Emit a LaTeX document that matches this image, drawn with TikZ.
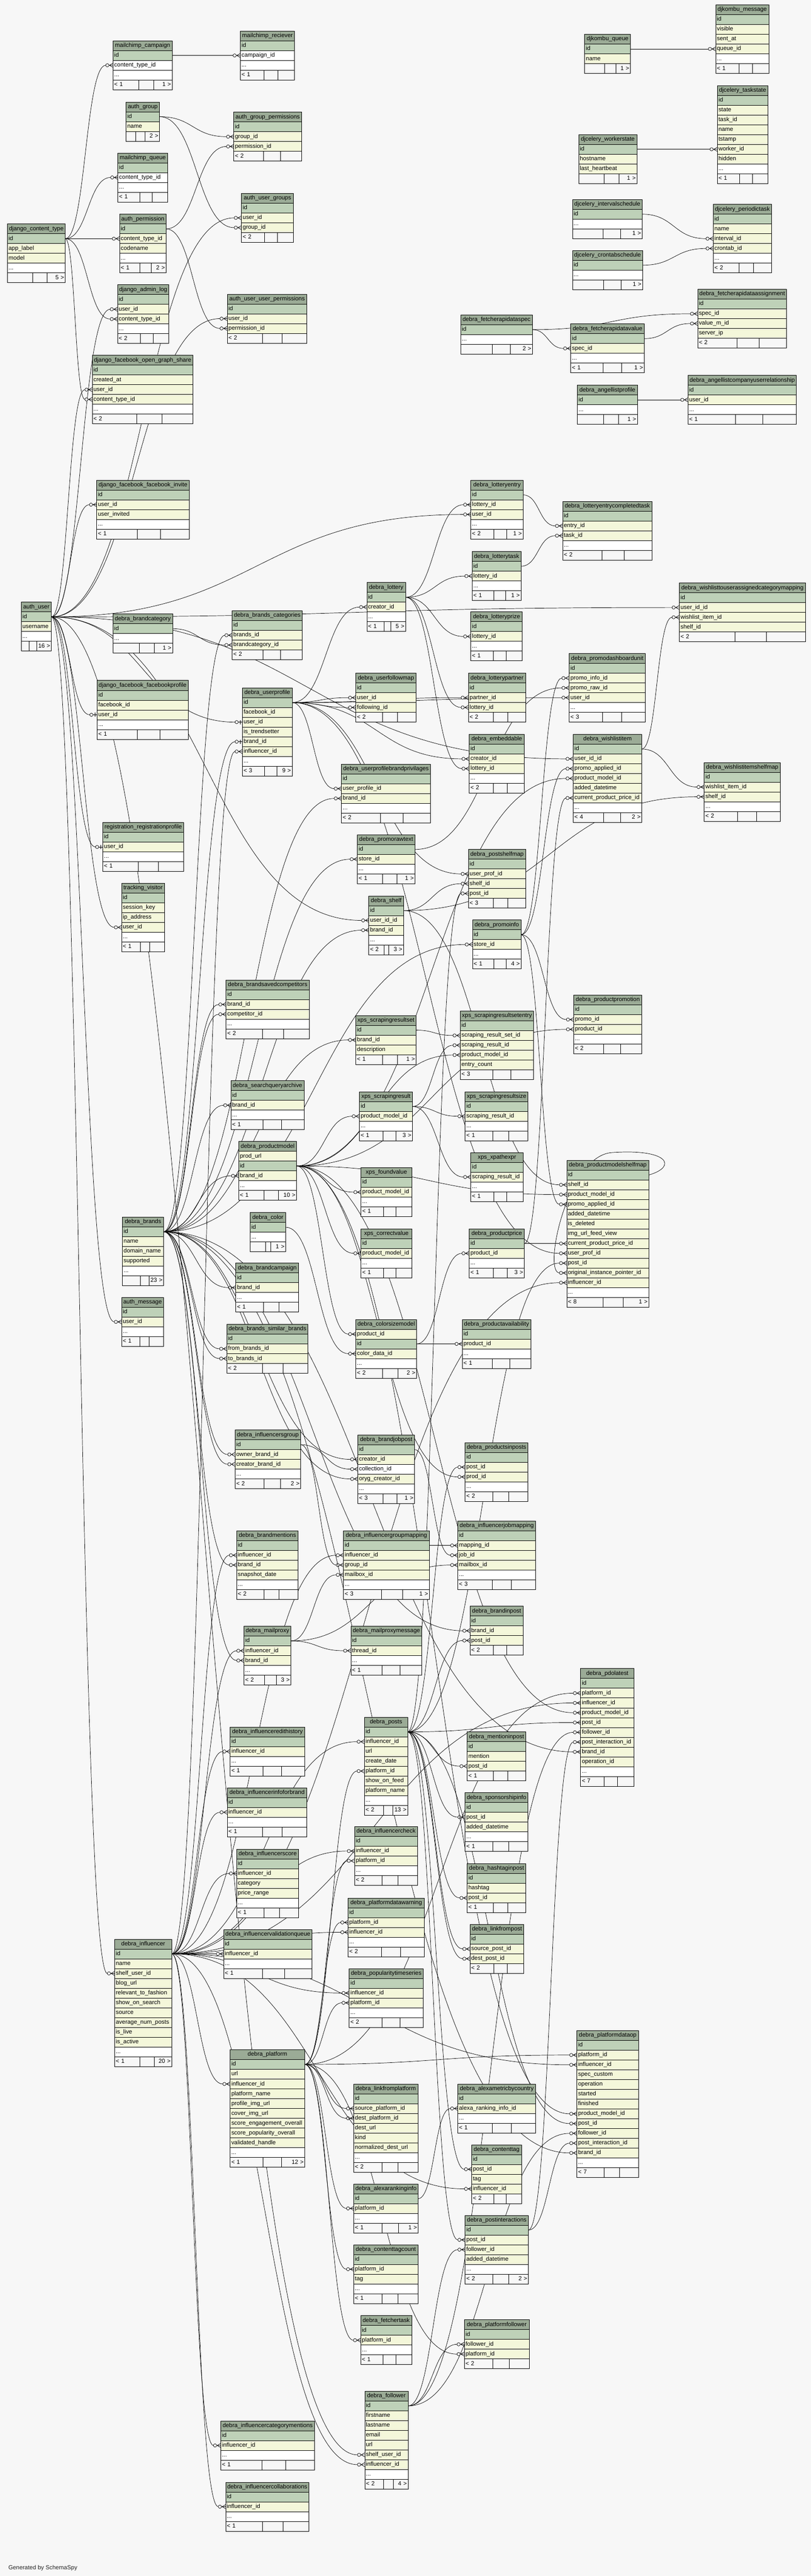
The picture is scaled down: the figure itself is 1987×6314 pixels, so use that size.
\documentclass[tikz,border=0pt]{standalone}
\usepackage{fontspec}
\setmainfont{Liberation Sans}
\usetikzlibrary{calc}
\definecolor{bgcol}{HTML}{F7F7F7}
\definecolor{colh}{HTML}{9BAB96}
\definecolor{colp}{HTML}{BED1B8}
\definecolor{coli}{HTML}{F4F7DA}
\definecolor{colw}{HTML}{FFFFFF}
\definecolor{colf}{HTML}{F7F7F7}
\newcommand{\tblfont}{\fontsize{14.4}{17}\selectfont}
\pgfdeclarelayer{bg}
\pgfdeclarelayer{edges}
\pgfsetlayers{bg,edges,main}
\tikzset{
  tblcell/.style={draw=black, line width=1pt, anchor=north west, inner xsep=3pt, inner ysep=0pt,
    outer sep=0pt, minimum height=24, text height=11pt, text depth=3.5pt, font=\tblfont},
  tblhead/.style={tblcell, fill=colh, align=center},
  tblrow/.style={tblcell, align=left},
  tblfoot/.style={tblcell, fill=colf},
  fkline/.style={line width=0.9pt, black},
  crowfoot/.pic={
    \draw[fkline] (-18,0) -- (0,0) (-9,0) -- (0,-5) (-9,0) -- (0,5);
    \draw[fkline,fill=bgcol] (-14,0) circle[radius=4pt];
  },
  onefoot/.pic={
    \draw[fkline] (-18,0) -- (0,0) (-5,-5) -- (-5,5);
    \draw[fkline,fill=bgcol] (-14,0) circle[radius=4pt];
  },
}
% #1 name, #2 x, #3 y, #4 width, #5 rows, #6 dots row, #7 left count, #8 right count
\newcommand{\dbtable}[8]{%
  \pgfmathsetmacro\tw{#4-6}%
  \node[tblhead, text width=\tw pt] (#1) at (#2,#3) {#1};
  \foreach [count=\rw] \cl/\fd in {#5}{%
    \node[tblrow, fill=col\cl, text width=\tw pt] (#1-\fd) at (#2,#3+24*\rw) {\fd};
    \xdef\nrows{\rw}%
  }
  \ifnum#6=1
    \node[tblrow, fill=colw, text width=\tw pt] (#1-dots) at (#2,#3+24*\nrows+24) {...};
  \fi
  \pgfmathsetmacro\yf{#3+24*(\nrows+1+#6)}%
  \pgfmathsetmacro\ftr{max(0.31*#4,36)}%
  \pgfmathsetmacro\ftl{(0.56*#4-\ftr<10) ? (#4-\ftr)/2 : 0.44*#4}%
  \pgfmathsetmacro\ftm{#4-\ftl-\ftr}%
  \pgfmathsetmacro\ftlt{\ftl-6}%
  \pgfmathsetmacro\ftmt{\ftm-6}%
  \pgfmathsetmacro\ftrt{\ftr-6}%
  \node[tblfoot, text width=\ftlt pt, align=left] (#1-fl) at (#2,\yf) {#7};
  \node[tblfoot, text width=\ftmt pt] (#1-fm) at (#2+\ftl,\yf) {};
  \node[tblfoot, text width=\ftrt pt, align=right] (#1-fr) at (#2+\ftl+\ftm,\yf) {#8};
}
\begin{document}
\catcode`\_=12
\lefthyphenmin=64
\begin{tikzpicture}[x=1pt,y=-1pt]
\useasboundingbox (0,0) rectangle (1987,6314);
\begin{pgfonlayer}{bg}
\fill[bgcol] (0,0) rectangle (1987,6314);
\end{pgfonlayer}

% django, auth, mailchimp
\dbtable{mailchimp_campaign}{277}{100}{145}{p/id,w/content_type_id}{1}{< 1}{1 >}
\dbtable{mailchimp_reciever}{589}{76}{133}{p/id,w/campaign_id}{1}{< 1}{}
\dbtable{auth_group}{309}{250}{82}{p/id,i/name}{0}{}{2 >}
\dbtable{auth_group_permissions}{573}{275}{166}{p/id,i/group_id,i/permission_id}{0}{< 2}{}
\dbtable{mailchimp_queue}{289}{375}{122}{p/id,w/content_type_id}{1}{< 1}{}
\dbtable{auth_permission}{293}{525}{114}{p/id,i/content_type_id,i/codename}{1}{< 1}{2 >}
\dbtable{auth_user_groups}{592}{474}{127}{p/id,i/user_id,i/group_id}{0}{< 2}{}
\dbtable{django_content_type}{18}{549}{142}{p/id,i/app_label,i/model}{1}{}{5 >}
\dbtable{django_admin_log}{288}{698}{126}{p/id,i/user_id,i/content_type_id}{1}{< 2}{}
\dbtable{auth_user_user_permissions}{557}{721}{195}{p/id,i/user_id,i/permission_id}{0}{< 2}{}
\dbtable{django_facebook_open_graph_share}{226}{871}{247}{p/id,i/created_at,i/user_id,i/content_type_id}{1}{< 2}{}
\dbtable{django_facebook_facebook_invite}{237}{1177}{227}{p/id,i/user_id,i/user_invited}{1}{< 1}{}
\dbtable{auth_user}{52}{1476}{74}{p/id,i/username}{1}{}{16 >}
\dbtable{django_facebook_facebookprofile}{238}{1668}{223}{p/id,i/facebook_id,i/user_id}{1}{< 1}{}
\dbtable{registration_registrationprofile}{252}{2016}{198}{p/id,i/user_id}{1}{< 1}{}
\dbtable{tracking_visitor}{298}{2165}{105}{p/id,i/session_key,i/ip_address,i/user_id}{1}{< 1}{}
\dbtable{auth_message}{298}{3180}{103}{p/id,i/user_id}{1}{< 1}{}

% djkombu, djcelery, fetcher, angellist
\dbtable{djkombu_queue}{1433}{84}{112}{p/id,i/name}{0}{}{1 >}
\dbtable{djkombu_message}{1754}{12}{130}{p/id,i/visible,i/sent_at,i/queue_id}{1}{< 1}{}
\dbtable{djcelery_taskstate}{1758}{210}{124}{p/id,i/state,i/task_id,i/name,i/tstamp,i/worker_id,i/hidden}{1}{< 1}{}
\dbtable{djcelery_workerstate}{1418}{330}{143}{p/id,i/hostname,i/last_heartbeat}{0}{}{1 >}
\dbtable{djcelery_intervalschedule}{1403}{489}{171}{p/id}{1}{}{1 >}
\dbtable{djcelery_periodictask}{1748}{501}{143}{p/id,i/name,i/interval_id,i/crontab_id}{1}{< 2}{}
\dbtable{djcelery_crontabschedule}{1403}{614}{172}{p/id}{1}{}{1 >}
\dbtable{debra_fetcherapidataassignment}{1710}{709}{218}{p/id,i/spec_id,i/value_m_id,i/server_ip}{0}{< 2}{}
\dbtable{debra_fetcherapidataspec}{1129}{772}{176}{p/id}{1}{}{2 >}
\dbtable{debra_fetcherapidatavalue}{1399}{794}{180}{p/id,i/spec_id}{1}{< 1}{1 >}
\dbtable{debra_angellistprofile}{1415}{944}{147}{p/id}{1}{}{1 >}
\dbtable{debra_angellistcompanyuserrelationship}{1686}{920}{266}{p/id,i/user_id}{1}{< 1}{}

% brands and user profile
\dbtable{debra_brandcategory}{277}{1505}{146}{p/id}{1}{}{1 >}
\dbtable{debra_brands_categories}{569}{1497}{172}{p/id,i/brands_id,i/brandcategory_id}{0}{< 2}{}
\dbtable{debra_lottery}{899}{1428}{95}{p/id,i/creator_id}{1}{< 1}{5 >}
\dbtable{debra_userprofile}{594}{1686}{122}{p/id,i/facebook_id,i/user_id,i/is_trendsetter,i/brand_id,i/influencer_id}{1}{< 3}{9 >}
\dbtable{debra_userfollowmap}{872}{1650}{148}{p/id,i/user_id,i/following_id}{0}{< 2}{}
\dbtable{debra_userprofilebrandprivilages}{837}{1873}{218}{p/id,i/user_profile_id,i/brand_id}{1}{< 2}{}
\dbtable{debra_promorawtext}{876}{2046}{141}{p/id,i/store_id}{1}{< 1}{1 >}
\dbtable{debra_lotteryentry}{1154}{1177}{128}{p/id,i/lottery_id,i/user_id}{1}{< 2}{1 >}
\dbtable{debra_lotteryentrycompletedtask}{1379}{1229}{219}{p/id,i/entry_id,i/task_id}{1}{< 2}{}
\dbtable{debra_lotterytask}{1157}{1352}{120}{p/id,i/lottery_id}{1}{< 1}{1 >}
\dbtable{debra_wishlisttouserassignedcategorymapping}{1665}{1429}{309}{p/id,i/user_id_id,i/wishlist_item_id,i/shelf_id}{0}{< 2}{}
\dbtable{debra_lotteryprize}{1154}{1500}{126}{p/id,i/lottery_id}{1}{< 1}{}
\dbtable{debra_promodashboardunit}{1395}{1602}{187}{p/id,i/promo_info_id,i/promo_raw_id,i/user_id}{1}{< 3}{}
\dbtable{debra_lotterypartner}{1148}{1650}{140}{p/id,i/partner_id,i/lottery_id}{0}{< 2}{}
\dbtable{debra_embeddable}{1150}{1800}{135}{p/id,i/creator_id,i/lottery_id}{1}{< 2}{}
\dbtable{debra_wishlistitem}{1405}{1800}{168}{p/id,i/user_id_id,i/promo_applied_id,i/product_model_id,i/added_datetime,i/current_product_price_id}{1}{< 4}{2 >}
\dbtable{debra_wishlistitemshelfmap}{1726}{1869}{186}{p/id,i/wishlist_item_id,i/shelf_id}{1}{< 2}{}
\dbtable{debra_postshelfmap}{1148}{2082}{140}{p/id,i/user_prof_id,i/shelf_id,i/post_id}{0}{< 3}{}

% shelves, products, scraping
\dbtable{debra_shelf}{904}{2196}{85}{p/id,i/user_id_id,i/brand_id}{1}{< 2}{3 >}
\dbtable{debra_brandsavedcompetitors}{554}{2402}{204}{p/id,i/brand_id,i/competitor_id}{1}{< 2}{}
\dbtable{xps_scrapingresultset}{872}{2489}{148}{p/id,i/brand_id,i/description}{0}{< 1}{1 >}
\dbtable{debra_searchqueryarchive}{566}{2649}{179}{p/id,i/brand_id}{1}{< 1}{}
\dbtable{xps_scrapingresult}{881}{2676}{130}{p/id,i/product_model_id}{1}{< 1}{3 >}
\dbtable{debra_productmodel}{585}{2798}{142}{i/prod_url,p/id,i/brand_id}{1}{< 1}{10 >}
\dbtable{xps_foundvalue}{885}{2862}{124}{p/id,i/product_model_id}{1}{< 1}{}
\dbtable{debra_color}{613}{2972}{87}{p/id}{1}{}{1 >}
\dbtable{debra_brands}{300}{2983}{101}{p/id,i/name,i/domain_name,i/supported}{1}{}{23 >}
\dbtable{xps_correctvalue}{885}{3012}{124}{p/id,i/product_model_id}{1}{< 1}{}
\dbtable{debra_brandcampaign}{578}{3096}{154}{p/id,i/brand_id}{1}{< 1}{}
\dbtable{debra_promoinfo}{1158}{2255}{119}{p/id,i/store_id}{1}{< 1}{4 >}
\dbtable{debra_productpromotion}{1406}{2439}{167}{p/id,i/promo_id,i/product_id}{1}{< 2}{}
\dbtable{xps_scrapingresultsetentry}{1128}{2478}{180}{p/id,i/scraping_result_set_id,i/scraping_result_id,i/product_model_id,i/entry_count}{0}{< 3}{}
\dbtable{xps_scrapingresultsize}{1140}{2676}{154}{p/id,i/scraping_result_id}{1}{< 1}{}
\dbtable{xps_xpathexpr}{1154}{2825}{128}{p/id,i/scraping_result_id}{1}{< 1}{}
\dbtable{debra_productmodelshelfmap}{1389}{2844}{201}{p/id,i/shelf_id,i/product_model_id,i/promo_applied_id,i/added_datetime,i/is_deleted,i/img_url_feed_view,i/current_product_price_id,i/user_prof_id,i/post_id,i/original_instance_pointer_id,i/influencer_id}{1}{< 8}{1 >}
\dbtable{debra_productprice}{1150}{3012}{135}{p/id,i/product_id}{1}{< 1}{3 >}

% brand relations, mail, jobs
\dbtable{debra_brands_similar_brands}{556}{3246}{199}{p/id,i/from_brands_id,i/to_brands_id}{0}{< 2}{}
\dbtable{debra_colorsizemodel}{872}{3234}{149}{i/product_id,p/id,i/color_data_id}{1}{< 2}{2 >}
\dbtable{debra_productavailability}{1133}{3234}{168}{p/id,i/product_id}{1}{< 1}{}
\dbtable{debra_influencersgroup}{576}{3505}{161}{p/id,i/owner_brand_id,i/creator_brand_id}{1}{< 2}{2 >}
\dbtable{debra_brandjobpost}{877}{3517}{139}{p/id,i/creator_id,w/collection_id,i/oryg_creator_id}{1}{< 3}{1 >}
\dbtable{debra_productsinposts}{1140}{3536}{154}{p/id,i/post_id,i/prod_id}{1}{< 2}{}
\dbtable{debra_brandmentions}{580}{3752}{151}{p/id,i/influencer_id,i/brand_id,i/snapshot_date}{1}{< 2}{}
\dbtable{debra_influencergroupmapping}{842}{3752}{210}{p/id,i/influencer_id,i/group_id,i/mailbox_id}{1}{< 3}{1 >}
\dbtable{debra_influencerjobmapping}{1122}{3728}{191}{p/id,i/mapping_id,i/job_id,i/mailbox_id}{1}{< 3}{}
\dbtable{debra_mailproxy}{598}{3986}{115}{p/id,i/influencer_id,i/brand_id}{1}{< 2}{3 >}
\dbtable{debra_mailproxymessage}{860}{3986}{174}{p/id,i/thread_id}{1}{< 1}{}
\dbtable{debra_brandinpost}{1152}{3937}{130}{p/id,i/brand_id,i/post_id}{0}{< 2}{}
\dbtable{debra_pdolatest}{1423}{4090}{131}{p/id,i/platform_id,i/influencer_id,i/product_model_id,i/post_id,i/follower_id,i/post_interaction_id,i/brand_id,i/operation_id}{1}{< 7}{}

% influencers, platforms, posts
\dbtable{debra_influenceredithistory}{564}{4233}{183}{p/id,i/influencer_id}{1}{< 1}{}
\dbtable{debra_posts}{893}{4209}{106}{p/id,i/influencer_id,i/url,i/create_date,i/platform_id,i/show_on_feed,i/platform_name}{1}{< 2}{13 >}
\dbtable{debra_influencerinfoforbrand}{557}{4382}{195}{p/id,i/influencer_id}{1}{< 1}{}
\dbtable{debra_influencercheck}{869}{4477}{154}{p/id,i/influencer_id,i/platform_id}{1}{< 2}{}
\dbtable{debra_influencerscore}{580}{4532}{152}{p/id,i/influencer_id,i/category,i/price_range}{1}{< 1}{}
\dbtable{debra_platformdatawarning}{853}{4652}{187}{p/id,i/platform_id,i/influencer_id}{1}{< 2}{}
\dbtable{debra_influencervalidationqueue}{548}{4729}{217}{p/id,i/influencer_id}{1}{< 1}{}
\dbtable{debra_influencer}{281}{4753}{140}{p/id,i/name,i/shelf_user_id,i/blog_url,i/relevant_to_fashion,i/show_on_search,i/source,i/average_num_posts,i/is_live,i/is_active}{1}{< 1}{20 >}
\dbtable{debra_popularitytimeseries}{856}{4825}{181}{p/id,i/influencer_id,i/platform_id}{1}{< 2}{}
\dbtable{debra_platform}{564}{5024}{183}{p/id,i/url,i/influencer_id,i/platform_name,i/profile_img_url,i/cover_img_url,i/score_engagement_overall,i/score_popularity_overall,i/validated_handle}{1}{< 1}{12 >}
\dbtable{debra_linkfromplatform}{867}{5108}{157}{p/id,i/source_platform_id,i/dest_platform_id,i/dest_url,i/kind,i/normalized_dest_url}{1}{< 2}{}
\dbtable{debra_mentioninpost}{1145}{4245}{144}{p/id,i/mention,i/post_id}{0}{< 1}{}
\dbtable{debra_sponsorshipinfo}{1140}{4394}{154}{p/id,i/post_id,i/added_datetime}{1}{< 1}{}
\dbtable{debra_hashtaginpost}{1145}{4568}{144}{p/id,i/hashtag,i/post_id}{0}{< 1}{}
\dbtable{debra_linkfrompost}{1152}{4717}{132}{p/id,i/source_post_id,i/dest_post_id}{0}{< 2}{}
\dbtable{debra_platformdataop}{1414}{4977}{151}{p/id,i/platform_id,i/influencer_id,i/spec_custom,i/operation,i/started,i/finished,i/product_model_id,i/post_id,i/follower_id,i/post_interaction_id,i/brand_id}{1}{< 7}{}
\dbtable{debra_alexametricbycountry}{1122}{5108}{191}{p/id,i/alexa_ranking_info_id}{1}{< 1}{}
\dbtable{debra_alexarankinginfo}{867}{5353}{158}{p/id,i/platform_id}{1}{< 1}{1 >}
\dbtable{debra_contenttagcount}{867}{5502}{157}{p/id,i/platform_id,i/tag}{1}{< 1}{}
\dbtable{debra_fetchertask}{884}{5676}{125}{p/id,i/platform_id}{1}{< 1}{}
\dbtable{debra_follower}{894}{5861}{106}{p/id,i/firstname,i/lastname,i/email,i/url,i/shelf_user_id,i/influencer_id}{1}{< 2}{4 >}
\dbtable{debra_influencercategorymentions}{541}{5934}{230}{p/id,i/influencer_id}{1}{< 1}{}
\dbtable{debra_influencercollaborations}{553}{6084}{204}{p/id,i/influencer_id}{1}{< 1}{}
\dbtable{debra_contenttag}{1156}{5257}{122}{p/id,i/post_id,i/tag,i/influencer_id}{0}{< 2}{}
\dbtable{debra_postinteractions}{1140}{5430}{155}{p/id,i/post_id,i/follower_id,i/added_datetime}{1}{< 2}{2 >}
\dbtable{debra_platformfollower}{1138}{5686}{159}{p/id,i/follower_id,i/platform_id}{0}{< 2}{}

\node[anchor=west, font=\tblfont, text=black!85] (credit) at (17,6294) {Generated by SchemaSpy};

% foreign keys, parent id row to child column
\begin{pgfonlayer}{edges}
\foreach \pa/\ch in {django_content_type/mailchimp_campaign-content_type_id,
mailchimp_campaign/mailchimp_reciever-campaign_id,
auth_group/auth_group_permissions-group_id,
auth_permission/auth_group_permissions-permission_id,
django_content_type/mailchimp_queue-content_type_id,
django_content_type/auth_permission-content_type_id,
auth_user/auth_user_groups-user_id,
auth_group/auth_user_groups-group_id,
auth_user/django_admin_log-user_id,
django_content_type/django_admin_log-content_type_id,
auth_user/auth_user_user_permissions-user_id,
auth_permission/auth_user_user_permissions-permission_id,
auth_user/django_facebook_open_graph_share-user_id,
django_content_type/django_facebook_open_graph_share-content_type_id,
djkombu_queue/djkombu_message-queue_id,
djcelery_workerstate/djcelery_taskstate-worker_id,
djcelery_intervalschedule/djcelery_periodictask-interval_id,
djcelery_crontabschedule/djcelery_periodictask-crontab_id,
debra_fetcherapidataspec/debra_fetcherapidataassignment-spec_id,
debra_fetcherapidatavalue/debra_fetcherapidataassignment-value_m_id,
debra_fetcherapidataspec/debra_fetcherapidatavalue-spec_id,
debra_angellistprofile/debra_angellistcompanyuserrelationship-user_id,
auth_user/django_facebook_facebook_invite-user_id,
debra_brands/debra_brands_categories-brands_id,
debra_brandcategory/debra_brands_categories-brandcategory_id,
debra_userprofile/debra_lottery-creator_id,
debra_influencer/debra_userprofile-influencer_id,
debra_userprofile/debra_userfollowmap-user_id,
debra_userprofile/debra_userfollowmap-following_id,
debra_userprofile/debra_userprofilebrandprivilages-user_profile_id,
debra_brands/debra_userprofilebrandprivilages-brand_id,
debra_brands/debra_promorawtext-store_id,
debra_lottery/debra_lotteryentry-lottery_id,
auth_user/debra_lotteryentry-user_id,
debra_lotteryentry/debra_lotteryentrycompletedtask-entry_id,
debra_lotterytask/debra_lotteryentrycompletedtask-task_id,
debra_lottery/debra_lotterytask-lottery_id,
auth_user/debra_wishlisttouserassignedcategorymapping-user_id_id,
debra_wishlistitem/debra_wishlisttouserassignedcategorymapping-wishlist_item_id,
debra_lottery/debra_lotteryprize-lottery_id,
debra_promoinfo/debra_promodashboardunit-promo_info_id,
debra_promorawtext/debra_promodashboardunit-promo_raw_id,
debra_userprofile/debra_promodashboardunit-user_id,
debra_userprofile/debra_lotterypartner-partner_id,
debra_lottery/debra_lotterypartner-lottery_id,
debra_userprofile/debra_embeddable-creator_id,
debra_lottery/debra_embeddable-lottery_id,
auth_user/debra_wishlistitem-user_id_id,
debra_promoinfo/debra_wishlistitem-promo_applied_id,
debra_productmodel/debra_wishlistitem-product_model_id,
debra_productprice/debra_wishlistitem-current_product_price_id,
debra_wishlistitem/debra_wishlistitemshelfmap-wishlist_item_id,
debra_shelf/debra_wishlistitemshelfmap-shelf_id,
debra_userprofile/debra_postshelfmap-user_prof_id,
debra_shelf/debra_postshelfmap-shelf_id,
debra_posts/debra_postshelfmap-post_id,
auth_user/tracking_visitor-user_id,
auth_user/debra_shelf-user_id_id,
debra_brands/debra_shelf-brand_id,
debra_brands/debra_brandsavedcompetitors-brand_id,
debra_brands/debra_brandsavedcompetitors-competitor_id,
debra_brands/xps_scrapingresultset-brand_id,
debra_brands/debra_searchqueryarchive-brand_id,
debra_productmodel/xps_scrapingresult-product_model_id,
debra_brands/debra_productmodel-brand_id,
debra_productmodel/xps_foundvalue-product_model_id,
debra_productmodel/xps_correctvalue-product_model_id,
debra_brands/debra_brandcampaign-brand_id,
debra_brands/debra_promoinfo-store_id,
debra_promoinfo/debra_productpromotion-promo_id,
debra_productmodel/debra_productpromotion-product_id,
xps_scrapingresultset/xps_scrapingresultsetentry-scraping_result_set_id,
xps_scrapingresult/xps_scrapingresultsetentry-scraping_result_id,
debra_productmodel/xps_scrapingresultsetentry-product_model_id,
xps_scrapingresult/xps_scrapingresultsize-scraping_result_id,
xps_scrapingresult/xps_xpathexpr-scraping_result_id,
debra_shelf/debra_productmodelshelfmap-shelf_id,
debra_productmodel/debra_productmodelshelfmap-product_model_id,
debra_promoinfo/debra_productmodelshelfmap-promo_applied_id,
debra_productprice/debra_productmodelshelfmap-current_product_price_id,
debra_userprofile/debra_productmodelshelfmap-user_prof_id,
debra_posts/debra_productmodelshelfmap-post_id,
debra_influencer/debra_productmodelshelfmap-influencer_id,
debra_colorsizemodel/debra_productprice-product_id,
auth_user/auth_message-user_id,
debra_brands/debra_brands_similar_brands-from_brands_id,
debra_brands/debra_brands_similar_brands-to_brands_id,
debra_productmodel/debra_colorsizemodel-product_id,
debra_color/debra_colorsizemodel-color_data_id,
debra_colorsizemodel/debra_productavailability-product_id,
debra_brands/debra_influencersgroup-owner_brand_id,
debra_brands/debra_influencersgroup-creator_brand_id,
debra_brands/debra_brandjobpost-creator_id,
debra_influencersgroup/debra_brandjobpost-collection_id,
debra_brands/debra_brandjobpost-oryg_creator_id,
debra_influencer/debra_brandmentions-influencer_id,
debra_brands/debra_brandmentions-brand_id,
debra_influencer/debra_influencergroupmapping-influencer_id,
debra_influencersgroup/debra_influencergroupmapping-group_id,
debra_mailproxy/debra_influencergroupmapping-mailbox_id,
debra_influencer/debra_mailproxy-influencer_id,
debra_brands/debra_mailproxy-brand_id,
debra_mailproxy/debra_mailproxymessage-thread_id,
debra_posts/debra_productsinposts-post_id,
debra_productmodel/debra_productsinposts-prod_id,
debra_influencergroupmapping/debra_influencerjobmapping-mapping_id,
debra_brandjobpost/debra_influencerjobmapping-job_id,
debra_mailproxy/debra_influencerjobmapping-mailbox_id,
debra_brands/debra_brandinpost-brand_id,
debra_posts/debra_brandinpost-post_id,
debra_platform/debra_pdolatest-platform_id,
debra_influencer/debra_pdolatest-influencer_id,
debra_productmodel/debra_pdolatest-product_model_id,
debra_posts/debra_pdolatest-post_id,
debra_follower/debra_pdolatest-follower_id,
debra_postinteractions/debra_pdolatest-post_interaction_id,
debra_brands/debra_pdolatest-brand_id,
debra_influencer/debra_influenceredithistory-influencer_id,
debra_influencer/debra_posts-influencer_id,
debra_platform/debra_posts-platform_id,
debra_influencer/debra_influencerinfoforbrand-influencer_id,
debra_influencer/debra_influencercheck-influencer_id,
debra_platform/debra_influencercheck-platform_id,
debra_influencer/debra_influencerscore-influencer_id,
debra_platform/debra_platformdatawarning-platform_id,
debra_influencer/debra_platformdatawarning-influencer_id,
debra_influencer/debra_influencervalidationqueue-influencer_id,
auth_user/debra_influencer-shelf_user_id,
debra_influencer/debra_popularitytimeseries-influencer_id,
debra_platform/debra_popularitytimeseries-platform_id,
debra_influencer/debra_platform-influencer_id,
debra_platform/debra_linkfromplatform-source_platform_id,
debra_platform/debra_linkfromplatform-dest_platform_id,
debra_posts/debra_mentioninpost-post_id,
debra_posts/debra_sponsorshipinfo-post_id,
debra_posts/debra_hashtaginpost-post_id,
debra_posts/debra_linkfrompost-source_post_id,
debra_posts/debra_linkfrompost-dest_post_id,
debra_platform/debra_platformdataop-platform_id,
debra_influencer/debra_platformdataop-influencer_id,
debra_productmodel/debra_platformdataop-product_model_id,
debra_posts/debra_platformdataop-post_id,
debra_follower/debra_platformdataop-follower_id,
debra_postinteractions/debra_platformdataop-post_interaction_id,
debra_brands/debra_platformdataop-brand_id,
debra_alexarankinginfo/debra_alexametricbycountry-alexa_ranking_info_id,
debra_platform/debra_alexarankinginfo-platform_id,
debra_platform/debra_contenttagcount-platform_id,
debra_platform/debra_fetchertask-platform_id,
auth_user/debra_follower-shelf_user_id,
debra_influencer/debra_follower-influencer_id,
debra_influencer/debra_influencercategorymentions-influencer_id,
debra_influencer/debra_influencercollaborations-influencer_id,
debra_posts/debra_contenttag-post_id,
debra_influencer/debra_contenttag-influencer_id,
debra_posts/debra_postinteractions-post_id,
debra_follower/debra_postinteractions-follower_id,
debra_follower/debra_platformfollower-follower_id,
debra_platform/debra_platformfollower-platform_id}{
  \path (\pa-id.east) coordinate (s) ([xshift=-18pt]\ch.west) coordinate (e) ($(s)!0.5!(e)$) coordinate (m);
  \draw[fkline] (s) .. controls (m |- s) and (m |- e) .. (e);
  \pic at (\ch.west) {crowfoot};
}
% one to one
\foreach \pa/\ch in {auth_user/django_facebook_facebookprofile-user_id,
auth_user/debra_userprofile-user_id,
debra_brands/debra_userprofile-brand_id,
auth_user/registration_registrationprofile-user_id}{
  \path (\pa-id.east) coordinate (s) ([xshift=-18pt]\ch.west) coordinate (e) ($(s)!0.5!(e)$) coordinate (m);
  \draw[fkline] (s) .. controls (m |- s) and (m |- e) .. (e);
  \pic at (\ch.west) {onefoot};
}
% self reference
\draw[fkline] (debra_productmodelshelfmap-id.east) .. controls (1660,2860) and (1640,2815) .. (1500,2825)
  .. controls (1390,2832) and (1330,3119) .. ([xshift=-18pt]debra_productmodelshelfmap-original_instance_pointer_id.west);
\pic at (debra_productmodelshelfmap-original_instance_pointer_id.west) {crowfoot};
\end{pgfonlayer}
\end{tikzpicture}
\end{document}
